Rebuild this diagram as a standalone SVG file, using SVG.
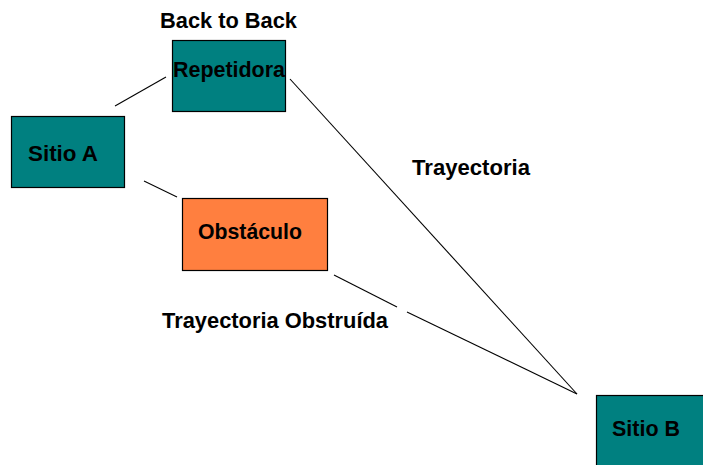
<svg xmlns="http://www.w3.org/2000/svg" width="703" height="465" viewBox="0 0 703 465">
<style>
.box{stroke:#000;stroke-width:1.2}
.teal{fill:#008080}
.orange{fill:#FF7F3F}
.t{font-family:"Liberation Sans",Arial,sans-serif;font-weight:bold;font-size:22px;fill:#000}
.c line{stroke:#000;stroke-width:1.1}
</style>
<rect width="703" height="465" fill="#fff"/>
<g id="connectors" class="c">
<line x1="115" y1="106" x2="166" y2="77"/>
<line x1="144" y1="181" x2="177" y2="197"/>
<line x1="290" y1="79" x2="577" y2="394"/>
<line x1="334" y1="275" x2="397" y2="307"/>
<line x1="407" y1="312" x2="577" y2="394"/>
</g>
<g id="label-back">
<text class="t" x="160" y="28" textLength="137" lengthAdjust="spacingAndGlyphs">Back to Back</text>
</g>
<g id="repetidora">
<rect class="box teal" x="172.5" y="40.5" width="113" height="71"/>
<text class="t" x="173" y="77" textLength="112" lengthAdjust="spacingAndGlyphs">Repetidora</text>
</g>
<g id="sitioA">
<rect class="box teal" x="11.5" y="116.5" width="113" height="71"/>
<text class="t" x="28" y="161" textLength="70" lengthAdjust="spacingAndGlyphs">Sitio A</text>
</g>
<g id="obstaculo">
<rect class="box orange" x="182.5" y="198.5" width="145" height="72"/>
<text class="t" x="198" y="239" textLength="104" lengthAdjust="spacingAndGlyphs">Obstáculo</text>
</g>
<g id="sitioB">
<rect class="box teal" x="596.5" y="395.5" width="110" height="75"/>
<text class="t" x="612" y="436" textLength="68" lengthAdjust="spacingAndGlyphs">Sitio B</text>
</g>
<g id="label-trayectoria">
<text class="t" x="412" y="175" textLength="118" lengthAdjust="spacingAndGlyphs">Trayectoria</text>
</g>
<g id="label-obstruida">
<text class="t" x="162" y="328" textLength="226" lengthAdjust="spacingAndGlyphs">Trayectoria Obstruída</text>
</g>
</svg>
